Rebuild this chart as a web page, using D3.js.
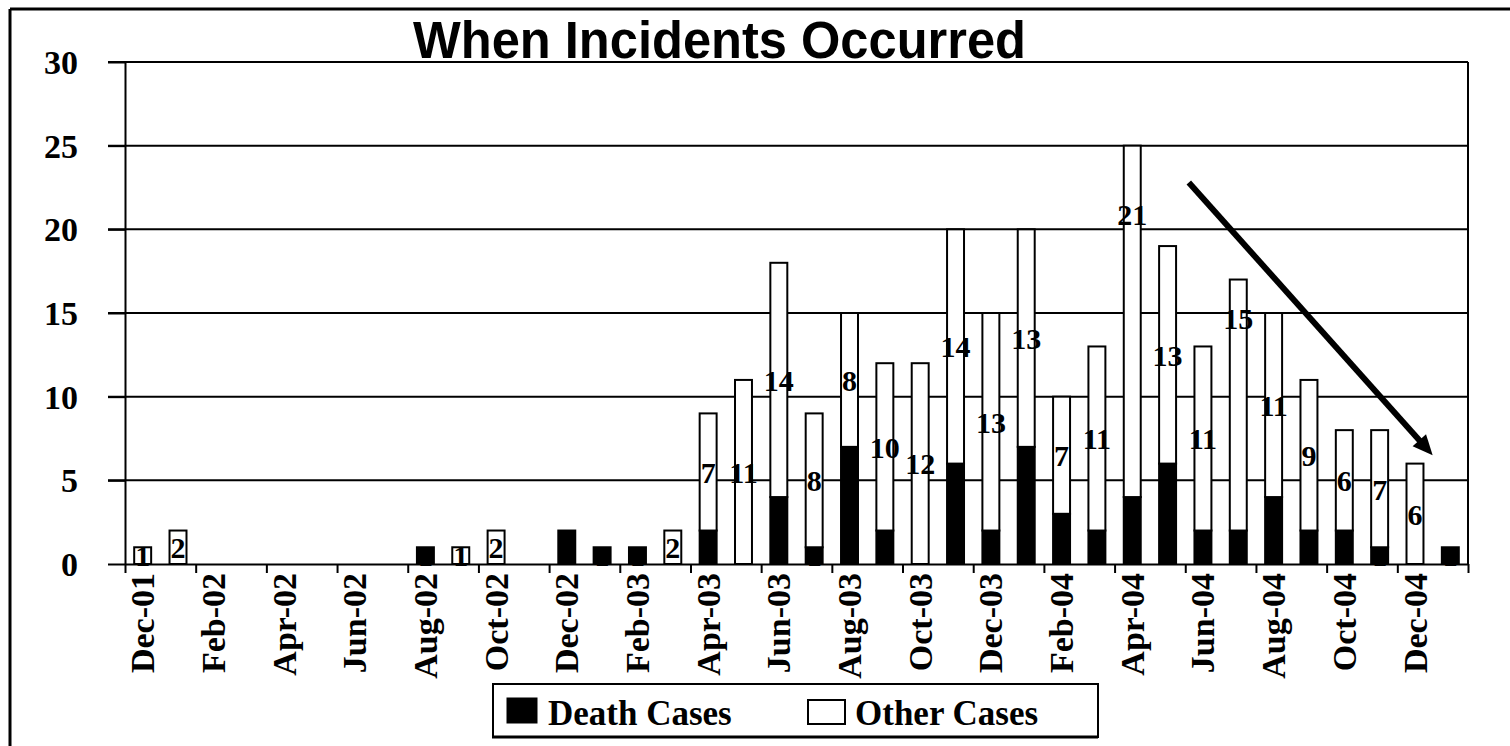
<!DOCTYPE html>
<html>
<head>
<meta charset="utf-8">
<script src="https://cdn.jsdelivr.net/npm/d3@7"></script>
<style>
body { margin: 0; background: #fff; }
text { font-family: "Liberation Serif", "Times New Roman", serif; font-weight: bold; fill: #000; }
</style>
</head>
<body>
<div id="main_div"></div>
<script>
var months = ["Dec-01", "Jan-02", "Feb-02", "Mar-02", "Apr-02", "May-02", "Jun-02", "Jul-02",
    "Aug-02", "Sep-02", "Oct-02", "Nov-02", "Dec-02", "Jan-03", "Feb-03", "Mar-03", "Apr-03",
    "May-03", "Jun-03", "Jul-03", "Aug-03", "Sep-03", "Oct-03", "Nov-03", "Dec-03", "Jan-04",
    "Feb-04", "Mar-04", "Apr-04", "May-04", "Jun-04", "Jul-04", "Aug-04", "Sep-04", "Oct-04",
    "Nov-04", "Dec-04", "Jan-05"];
var death = [0, 0, 0, 0, 0, 0, 0, 0, 1, 0, 0, 0, 2, 1, 1, 0, 2, 0, 4, 1, 7, 2, 0, 6, 2, 7,
    3, 2, 4, 6, 2, 2, 4, 2, 2, 1, 0, 1];
var other = [1, 2, 0, 0, 0, 0, 0, 0, 0, 1, 2, 0, 0, 0, 0, 2, 7, 11, 14, 8, 8, 10, 12, 14, 13, 13,
    7, 11, 21, 13, 11, 15, 11, 9, 6, 7, 6, 0];
var y_ticks = [0, 5, 10, 15, 20, 25, 30];
var series_names = ["Death Cases", "Other Cases"];
var chart_title = "When Incidents Occurred";
// trend arrow drawn on the slide, in (month index, cases)
var trend_arrow = [[30.1, 22.8], [37.0, 6.5]];

var rows = months.map(function(m, i) {
    return {month: m, death: death[i], other: other[i]};
});

var W = 1510, H = 746;
var svg = d3.select("#main_div").append("svg").attr("width", W).attr("height", H);

var x_scale = d3.scaleBand().domain(months).range([125, 1468]).paddingInner(0.52).paddingOuter(0.26);
var idx_scale = d3.scaleLinear().domain([0, months.length]).range([125, 1468]);
var y_scale = d3.scaleLinear().domain([0, 30]).range([564, 62]);

// outer frame (top and left edges visible)
svg.append("line").attr("x1", 10).attr("x2", W).attr("y1", 9).attr("y2", 9)
    .attr("stroke", "#000").attr("stroke-width", 3);
svg.append("line").attr("x1", 10).attr("x2", 10).attr("y1", 9).attr("y2", H)
    .attr("stroke", "#000").attr("stroke-width", 3);

// gridlines
svg.append("g").selectAll("line").data(y_ticks.slice(1)).enter().append("line")
    .attr("x1", 108).attr("x2", 1468)
    .attr("y1", function(d) { return y_scale(d); })
    .attr("y2", function(d) { return y_scale(d); })
    .attr("stroke", "#000").attr("stroke-width", 2);

// right border of plot area
svg.append("line").attr("x1", 1468).attr("x2", 1468)
    .attr("y1", y_scale(30)).attr("y2", y_scale(0))
    .attr("stroke", "#000").attr("stroke-width", 2);

// y axis
var g_y = svg.append("g").attr("transform", "translate(125,0)")
    .call(d3.axisLeft(y_scale).tickValues(y_ticks).tickSize(17).tickSizeOuter(0).tickPadding(30));
g_y.selectAll("line, path").attr("stroke", "#000").attr("stroke-width", 2);
g_y.selectAll("text").style("font-family", "Liberation Serif, serif").style("font-weight", "bold")
    .style("font-size", "34px").attr("dy", "0.34em");

// x axis: ticks between every second month
var g_x = svg.append("g").attr("transform", "translate(0," + y_scale(0) + ")")
    .call(d3.axisBottom(idx_scale).tickValues(d3.range(0, months.length + 1, 2))
        .tickSize(9).tickSizeOuter(0).tickFormat(""));
g_x.selectAll("line, path").attr("stroke", "#000").attr("stroke-width", 2);

svg.append("g").selectAll("text").data(months.filter(function(d, i) { return i % 2 === 0; }))
    .enter().append("text")
    .attr("transform", function(d) {
        return "translate(" + (x_scale(d) + x_scale.bandwidth() / 2) + "," + (y_scale(0) + 9) + ") rotate(-90)";
    })
    .attr("text-anchor", "end")
    .attr("dy", "0.34em")
    .style("font-size", "34px")
    .text(function(d) { return d; });

// stacked bars
var stacked = d3.stack().keys(["death", "other"])(rows);
var fills = {death: "#000", other: "#fff"};

var layers = svg.append("g").selectAll("g").data(stacked).enter().append("g")
    .attr("fill", function(d) { return fills[d.key]; });
layers.selectAll("rect").data(function(d) { return d.filter(function(e) { return e[1] > e[0]; }); })
    .enter().append("rect")
    .attr("x", function(d) { return x_scale(d.data.month); })
    .attr("y", function(d) { return y_scale(d[1]); })
    .attr("width", x_scale.bandwidth())
    .attr("height", function(d) { return y_scale(d[0]) - y_scale(d[1]); })
    .attr("stroke", "#000").attr("stroke-width", 2);

// data labels (some were dragged by hand in the original)
var moved_labels = {"Apr-04": 20.9, "Jul-04": 14.7};
var lab = svg.append("g").selectAll("g").data(stacked).enter().append("g");
lab.selectAll("text").data(function(d) {
        return d.filter(function(e) { return e[1] > e[0]; }).map(function(e) {
            return {key: d.key, seg: e};
        });
    })
    .enter().append("text")
    .attr("x", function(d) { return x_scale(d.seg.data.month) + x_scale.bandwidth() / 2; })
    .attr("y", function(d) {
        var m = d.seg.data.month;
        if (d.key === "other" && moved_labels[m] !== undefined) return y_scale(moved_labels[m]);
        return y_scale((d.seg[0] + d.seg[1]) / 2);
    })
    .attr("dy", "0.36em")
    .attr("text-anchor", "middle")
    .style("font-size", "30px")
    .text(function(d) { return d.seg[1] - d.seg[0]; });

// trend arrow
var ax0 = idx_scale(trend_arrow[0][0]), ay0 = y_scale(trend_arrow[0][1]);
var ax1 = idx_scale(trend_arrow[1][0]), ay1 = y_scale(trend_arrow[1][1]);
var len = Math.sqrt(Math.pow(ax1 - ax0, 2) + Math.pow(ay1 - ay0, 2));
var ux = (ax1 - ax0) / len, uy = (ay1 - ay0) / len;
var head = 20, half = 9;
var bx = ax1 - ux * head, by = ay1 - uy * head;
svg.append("line").attr("x1", ax0).attr("y1", ay0).attr("x2", bx + ux * 2).attr("y2", by + uy * 2)
    .attr("stroke", "#000").attr("stroke-width", 6);
svg.append("path")
    .attr("d", "M" + ax1 + "," + ay1 + "L" + (bx - uy * half) + "," + (by + ux * half) +
        "L" + (bx + uy * half) + "," + (by - ux * half) + "Z")
    .attr("fill", "#000");

// title
svg.append("text").attr("x", 413).attr("y", 58)
    .attr("textLength", 613).attr("lengthAdjust", "spacingAndGlyphs")
    .style("font-family", "Liberation Sans, Arial, sans-serif").style("font-size", "51px")
    .text(chart_title);

// legend
var lg = svg.append("g");
lg.append("rect").attr("x", 493).attr("y", 684).attr("width", 605).attr("height", 53)
    .attr("fill", "#fff").attr("stroke", "#000").attr("stroke-width", 2);
lg.append("line").attr("x1", 492).attr("x2", 1098).attr("y1", 737).attr("y2", 737)
    .attr("stroke", "#000").attr("stroke-width", 3);
lg.append("rect").attr("x", 507).attr("y", 698).attr("width", 30).attr("height", 25)
    .attr("fill", fills.death).attr("stroke", "#000").attr("stroke-width", 1);
lg.append("text").attr("x", 548).attr("y", 725).style("font-size", "35px").text(series_names[0]);
lg.append("rect").attr("x", 808).attr("y", 700).attr("width", 37).attr("height", 24)
    .attr("fill", fills.other).attr("stroke", "#000").attr("stroke-width", 2);
lg.append("text").attr("x", 855).attr("y", 725).style("font-size", "35px").text(series_names[1]);
</script>
</body>
</html>
